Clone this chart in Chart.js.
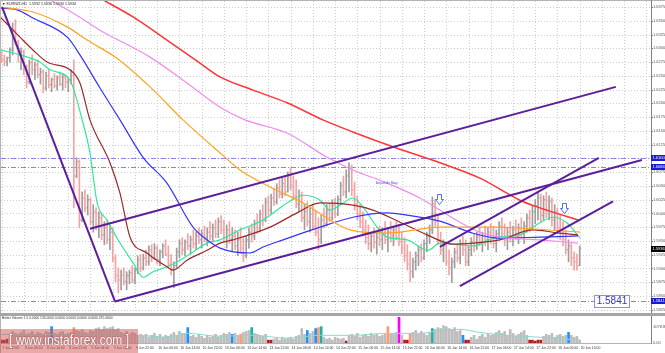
<!DOCTYPE html>
<html>
<head>
<meta charset="utf-8">
<title>EURNZD H1</title>
<script src="https://cdn.jsdelivr.net/npm/chart.js@4.4.1/dist/chart.umd.min.js"></script>
<style>
  body { margin: 0; background: #fff; }
  #wrap { position: relative; width: 665px; height: 353px; overflow: hidden; }
  canvas { position: absolute; left: 0; }
  #priceChart { top: 0; }
  #volChart { top: 316px; }
</style>
</head>
<body>
<div id="wrap">
  <canvas id="priceChart" width="665" height="316"></canvas>
  <canvas id="volChart" width="665" height="37"></canvas>
</div>
<script>
// EURNZD H1 - price pane with moving averages and trendlines, Better Volume pane below

const symbolTitle = '\u25BC EURNZD,H1  1.5932 1.5936 1.5930 1.5934';
const volumeTitle = 'Better Volume 1.5 0.0000 135.0000 0.0000 0.0000 0.0000 0.0000 475.0000';

// time labels, one every 8 bars
const timeLabels = [
    '7 Jun 2016', '8 Jun 06:00', '8 Jun 14:00', '8 Jun 22:00', '9 Jun 06:00', '9 Jun 14:00',
    '9 Jun 22:00', '10 Jun 06:00', '10 Jun 14:00', '10 Jun 22:00', '13 Jun 06:00', '13 Jun 14:00',
    '13 Jun 22:00', '14 Jun 06:00', '14 Jun 14:00', '14 Jun 22:00', '15 Jun 06:00', '15 Jun 14:00',
    '15 Jun 22:00', '16 Jun 06:00', '16 Jun 14:00', '16 Jun 22:00', '17 Jun 06:00', '17 Jun 14:00',
    '17 Jun 22:00', '20 Jun 06:00', '20 Jun 14:00'
];
const barsPerLabel = 8;

const priceTicks = [
    1.5825, 1.5850, 1.5875, 1.5900, 1.5925, 1.5950, 1.5975, 1.6000, 1.6025, 1.6050, 1.6075, 1.6100,
    1.6125, 1.6150, 1.6175, 1.6200, 1.6225, 1.6250, 1.6275, 1.6300, 1.6325, 1.6350, 1.6375
];
const volumeTicks = [0, 1078.85];

// H1 bars
const opens = [
    1.6288,1.6279,1.6275,1.6283,1.6297,1.6333,1.6312,1.6288,1.6294,1.6261,
    1.6239,1.6274,1.6261,1.6270,1.6252,1.6257,1.6228,1.6250,1.6234,1.6243,
    1.6232,1.6246,1.6235,1.6248,1.6239,1.6243,1.6250,1.6068,1.6094,1.5988,
    1.6028,1.6010,1.6025,1.5985,1.6003,1.5977,1.5992,1.5961,1.5974,1.5952,
    1.5966,1.5919,1.5887,1.5879,1.5888,1.5876,1.5887,1.5892,1.5879,1.5897,
    1.5916,1.5901,1.5919,1.5912,1.5934,1.5919,1.5937,1.5916,1.5930,1.5941,
    1.5926,1.5908,1.5897,1.5905,1.5930,1.5945,1.5934,1.5948,1.5941,1.5952,
    1.5945,1.5959,1.5952,1.5963,1.5956,1.5966,1.5959,1.5974,1.5963,1.5985,
    1.5970,1.5956,1.5970,1.5952,1.5959,1.5941,1.5952,1.5937,1.5923,1.5952,
    1.5966,1.5959,1.5981,1.5974,1.5999,1.5988,1.6021,1.6006,1.6028,1.6021,
    1.6046,1.6035,1.6054,1.6039,1.6068,1.6050,1.6032,1.6017,1.6032,1.5992,
    1.6003,1.5985,1.5999,1.5977,1.5966,1.5952,1.5988,1.5981,1.6006,1.5992,
    1.6014,1.5999,1.6025,1.6050,1.6039,1.6068,1.6083,1.6043,1.6017,1.5999,
    1.5985,1.5970,1.5956,1.5945,1.5959,1.5948,1.5956,1.5952,1.5963,1.5952,
    1.5966,1.5959,1.5970,1.5956,1.5948,1.5937,1.5923,1.5908,1.5894,1.5912,
    1.5923,1.5934,1.5919,1.5945,1.5959,1.5970,1.6017,1.5985,1.5952,1.5934,
    1.5941,1.5912,1.5901,1.5912,1.5930,1.5919,1.5945,1.5934,1.5912,1.5934,
    1.5948,1.5941,1.5959,1.5948,1.5959,1.5952,1.5966,1.5956,1.5945,1.5963,
    1.5977,1.5963,1.5952,1.5966,1.5956,1.5970,1.5959,1.5974,1.5963,1.5977,
    1.5992,1.5974,1.6003,1.6014,1.6028,1.5996,1.6025,1.6006,1.6021,1.5988,
    1.6003,1.5974,1.5963,1.5952,1.5934,1.5941,1.5919,1.5912,1.5905
];
const highs = [
    1.6294,1.6288,1.6284,1.6301,1.6346,1.6352,1.6315,1.6301,1.6297,1.6270,
    1.6279,1.6288,1.6275,1.6279,1.6264,1.6261,1.6257,1.6261,1.6246,1.6254,
    1.6250,1.6257,1.6254,1.6252,1.6246,1.6261,1.6279,1.6101,1.6097,1.6039,
    1.6043,1.6034,1.6028,1.6016,1.6010,1.6003,1.5999,1.5985,1.5988,1.5979,
    1.5974,1.5925,1.5901,1.5897,1.5901,1.5894,1.5897,1.5905,1.5901,1.5923,
    1.5925,1.5926,1.5934,1.5941,1.5943,1.5945,1.5941,1.5934,1.5945,1.5952,
    1.5941,1.5925,1.5912,1.5937,1.5952,1.5956,1.5952,1.5963,1.5959,1.5970,
    1.5966,1.5974,1.5970,1.5977,1.5974,1.5985,1.5981,1.5988,1.5992,1.5996,
    1.5988,1.5979,1.5985,1.5974,1.5970,1.5966,1.5974,1.5956,1.5959,1.5974,
    1.5981,1.5988,1.5999,1.6006,1.6016,1.6028,1.6032,1.6035,1.6046,1.6054,
    1.6061,1.6065,1.6068,1.6075,1.6083,1.6068,1.6061,1.6043,1.6039,1.6016,
    1.6021,1.6010,1.6016,1.6006,1.5992,1.5997,1.6010,1.6016,1.6019,1.6025,
    1.6028,1.6032,1.6057,1.6068,1.6079,1.6092,1.6088,1.6057,1.6032,1.6016,
    1.6003,1.5988,1.5979,1.5966,1.5974,1.5966,1.5977,1.5974,1.5985,1.5974,
    1.5985,1.5977,1.5985,1.5979,1.5966,1.5956,1.5943,1.5930,1.5919,1.5930,
    1.5941,1.5945,1.5952,1.5966,1.5979,1.6030,1.6025,1.5997,1.5966,1.5952,
    1.5948,1.5934,1.5919,1.5937,1.5945,1.5952,1.5959,1.5952,1.5941,1.5956,
    1.5963,1.5966,1.5974,1.5966,1.5977,1.5974,1.5981,1.5977,1.5970,1.5985,
    1.5992,1.5981,1.5974,1.5985,1.5977,1.5988,1.5981,1.5992,1.5985,1.5999,
    1.6006,1.6014,1.6025,1.6039,1.6035,1.6032,1.6039,1.6032,1.6028,1.6016,
    1.6010,1.5999,1.5985,1.5970,1.5952,1.5945,1.5930,1.5926,1.5941
];
const lows = [
    1.6274,1.6268,1.6268,1.6275,1.6288,1.6306,1.6275,1.6261,1.6252,1.6228,
    1.6235,1.6252,1.6243,1.6246,1.6235,1.6219,1.6224,1.6228,1.6221,1.6228,
    1.6224,1.6232,1.6224,1.6228,1.6221,1.6235,1.6010,1.6065,1.5974,1.5985,
    1.6003,1.5997,1.5979,1.5966,1.5970,1.5956,1.5952,1.5943,1.5945,1.5934,
    1.5912,1.5876,1.5856,1.5861,1.5870,1.5861,1.5872,1.5874,1.5872,1.5890,
    1.5894,1.5897,1.5905,1.5906,1.5912,1.5916,1.5908,1.5905,1.5919,1.5923,
    1.5901,1.5888,1.5865,1.5901,1.5919,1.5925,1.5923,1.5934,1.5926,1.5937,
    1.5934,1.5945,1.5937,1.5948,1.5941,1.5952,1.5948,1.5956,1.5956,1.5963,
    1.5948,1.5937,1.5945,1.5930,1.5934,1.5923,1.5930,1.5912,1.5919,1.5937,
    1.5948,1.5952,1.5963,1.5966,1.5977,1.5985,1.5997,1.5999,1.6014,1.6017,
    1.6028,1.6028,1.6032,1.6039,1.6043,1.6025,1.6010,1.6003,1.5985,1.5970,
    1.5977,1.5966,1.5970,1.5959,1.5934,1.5945,1.5974,1.5977,1.5985,1.5988,
    1.5992,1.5996,1.6017,1.6032,1.6028,1.6039,1.6032,1.6006,1.5988,1.5974,
    1.5959,1.5945,1.5934,1.5930,1.5937,1.5926,1.5941,1.5934,1.5945,1.5930,
    1.5948,1.5941,1.5952,1.5941,1.5926,1.5912,1.5897,1.5876,1.5883,1.5897,
    1.5905,1.5912,1.5916,1.5930,1.5945,1.5963,1.5977,1.5943,1.5925,1.5912,
    1.5905,1.5888,1.5874,1.5901,1.5912,1.5908,1.5923,1.5905,1.5905,1.5923,
    1.5930,1.5934,1.5941,1.5930,1.5941,1.5934,1.5945,1.5937,1.5930,1.5952,
    1.5956,1.5941,1.5934,1.5948,1.5941,1.5952,1.5945,1.5956,1.5945,1.5966,
    1.5966,1.5970,1.5981,1.5988,1.5985,1.5988,1.5992,1.5988,1.5977,1.5970,
    1.5963,1.5952,1.5941,1.5926,1.5912,1.5905,1.5897,1.5897,1.5905
];
const closes = [
    1.6279,1.6275,1.6283,1.6297,1.6333,1.6312,1.6288,1.6294,1.6261,1.6239,
    1.6274,1.6261,1.6270,1.6252,1.6257,1.6228,1.6250,1.6234,1.6243,1.6232,
    1.6246,1.6235,1.6248,1.6239,1.6243,1.6250,1.6068,1.6094,1.5988,1.6028,
    1.6010,1.6025,1.5985,1.6003,1.5977,1.5992,1.5961,1.5974,1.5952,1.5966,
    1.5919,1.5887,1.5879,1.5888,1.5876,1.5887,1.5892,1.5879,1.5897,1.5916,
    1.5901,1.5919,1.5912,1.5934,1.5919,1.5937,1.5916,1.5930,1.5941,1.5926,
    1.5908,1.5897,1.5905,1.5930,1.5945,1.5934,1.5948,1.5941,1.5952,1.5945,
    1.5959,1.5952,1.5963,1.5956,1.5966,1.5959,1.5974,1.5963,1.5985,1.5970,
    1.5956,1.5970,1.5952,1.5959,1.5941,1.5952,1.5937,1.5923,1.5952,1.5966,
    1.5959,1.5981,1.5974,1.5999,1.5988,1.6021,1.6006,1.6028,1.6021,1.6046,
    1.6035,1.6054,1.6039,1.6068,1.6050,1.6032,1.6017,1.6032,1.5992,1.6003,
    1.5985,1.5999,1.5977,1.5966,1.5952,1.5988,1.5981,1.6006,1.5992,1.6014,
    1.5999,1.6025,1.6050,1.6039,1.6068,1.6083,1.6043,1.6017,1.5999,1.5985,
    1.5970,1.5956,1.5945,1.5959,1.5948,1.5956,1.5952,1.5963,1.5952,1.5966,
    1.5959,1.5970,1.5956,1.5948,1.5937,1.5923,1.5908,1.5894,1.5912,1.5923,
    1.5934,1.5919,1.5945,1.5959,1.5970,1.6017,1.5985,1.5952,1.5934,1.5941,
    1.5912,1.5901,1.5912,1.5930,1.5919,1.5945,1.5934,1.5912,1.5934,1.5948,
    1.5941,1.5959,1.5948,1.5959,1.5952,1.5966,1.5956,1.5945,1.5963,1.5977,
    1.5963,1.5952,1.5966,1.5956,1.5970,1.5959,1.5974,1.5963,1.5977,1.5992,
    1.5974,1.6003,1.6014,1.6028,1.5996,1.6025,1.6006,1.6021,1.5988,1.6003,
    1.5974,1.5963,1.5952,1.5934,1.5941,1.5919,1.5912,1.5905,1.5936
];

// moving averages as [bar, price]
const maGreen = [[-0.5,1.6297],[6.7,1.6288],[13.8,1.6275],[17.4,1.6261],[24.6,1.6242],[29.0,1.6170],[31.8,1.6110],
    [34.4,1.6019],[37.9,1.5988],[41.9,1.5952],[47.3,1.5910],[50.9,1.5884],[54.5,1.5894],[59.5,1.5903],[64.2,1.5915],
    [68.9,1.5930],[73.9,1.5946],[78.6,1.5952],[85.8,1.5970],[94.1,1.5988],[102.7,1.6019],[108.5,1.6033],[114.6,1.6024],
    [118.2,1.6006],[121.8,1.6015],[126.4,1.6028],[130.0,1.6012],[135.1,1.5975],[138.7,1.5957],[145.9,1.5952],
    [153.4,1.5933],[157.7,1.5946],[169.6,1.5941],[178.2,1.5957],[186.5,1.5961],[193.7,1.5983],[198.4,1.5993],
    [203.4,1.5983],[208.1,1.5955]];
const maBrown = [[-0.5,1.6357],[6.7,1.6320],[11.3,1.6297],[16.4,1.6275],[24.6,1.6261],[28.2,1.6237],[31.8,1.6170],
    [39.0,1.6092],[42.6,1.6037],[46.2,1.5957],[52.3,1.5928],[59.5,1.5903],[61.7,1.5897],[66.7,1.5915],[73.9,1.5933],
    [78.6,1.5946],[83.3,1.5952],[96.6,1.5975],[106.3,1.6001],[114.6,1.6019],[126.4,1.6015],[133.6,1.6006],
    [143.4,1.5984],[153.1,1.5961],[162.4,1.5944],[169.6,1.5946],[179.3,1.5952],[191.2,1.5970],[200.9,1.5964],
    [207.4,1.5961]];
const maBlue = [[-0.5,1.6373],[5.6,1.6370],[11.3,1.6355],[23.9,1.6319],[28.2,1.6288],[35.4,1.6228],[42.6,1.6170],
    [50.9,1.6102],[59.5,1.6055],[68.9,1.5975],[73.9,1.5952],[78.6,1.5937],[89.4,1.5928],[94.1,1.5939],[101.3,1.5952],
    [114.6,1.5975],[126.4,1.5993],[138.7,1.6001],[145.9,1.5997],[157.7,1.5986],[169.6,1.5964],[179.3,1.5955],
    [193.7,1.5957],[207.4,1.5959]];
const maOrange = [[-0.5,1.6375],[11.3,1.6366],[23.6,1.6339],[30.8,1.6315],[41.5,1.6282],[53.4,1.6230],[65.3,1.6170],
    [78.6,1.6110],[85.8,1.6079],[96.6,1.6048],[108.5,1.6019],[118.2,1.5988],[125.4,1.5970],[138.7,1.5964],
    [157.7,1.5975],[175.7,1.5975],[187.6,1.5973],[208.1,1.5966]];
const maViolet = [[10.3,1.6406],[17.4,1.6388],[25.7,1.6364],[35.4,1.6333],[53.4,1.6284],[66.7,1.6237],[78.6,1.6193],
    [87.6,1.6170],[102.7,1.6146],[117.1,1.6102],[126.4,1.6079],[138.7,1.6055],[150.5,1.6028],[157.7,1.6006],
    [164.9,1.5984],[172.1,1.5966],[179.3,1.5957],[193.7,1.5952],[207.4,1.5946]];
const maRed = [[28.2,1.6411],[36.5,1.6388],[47.3,1.6357],[59.5,1.6315],[71.4,1.6273],[78.6,1.6248],[90.5,1.6224],
    [102.7,1.6201],[115.6,1.6170],[126.4,1.6148],[140.8,1.6121],[157.7,1.6092],[172.1,1.6064],[186.5,1.6024],
    [193.7,1.6010],[207.4,1.5988]];

// drawn objects
const trendLines = [
    [[0.2, 1.6375], [40.8, 1.5840]],
    [[40.8, 1.5840], [230.4, 1.6097]],
    [[31.8, 1.5972], [221.0, 1.6230]],
    [[157.7, 1.5939], [214.9, 1.6101]],
    [[164.9, 1.5868], [220.0, 1.6022]]
];
const levels = [1.6100, 1.6084, 1.5841];
const lastPrice = 1.5936;
const flagLabel = { x: 134.7, y: 1.6056, text: 'bearish flag' };
const arrowMarks = [[157.4, 1.6026], [202.3, 1.6010]];
const levelBox = { x: 213.1, y: 1.5841, text: '1.5841' };

// Better Volume
const volumes = [
    190,190,254,571,761,634,507,697,824,571,634,761,507,697,634,571,761,697,1078,634,
    571,697,761,507,634,697,1014,824,761,888,697,634,824,761,951,1014,888,1078,951,1014,
    1078,888,951,697,634,761,571,697,634,507,571,444,571,380,507,634,444,571,380,507,
    444,571,697,507,761,634,571,1014,444,507,380,571,444,317,507,380,444,571,380,507,
    634,571,697,571,634,507,571,697,761,824,1014,634,571,507,444,571,190,190,254,317,
    190,380,254,317,380,254,444,507,951,571,824,634,761,951,1014,1078,380,254,317,190,
    380,317,254,317,127,507,571,444,634,380,507,571,444,634,507,571,444,507,571,1078,
    634,571,697,1712,507,190,190,634,697,824,571,761,634,507,697,951,888,1014,951,1141,
    1078,951,888,1014,761,824,507,190,190,380,507,254,444,571,380,634,507,571,697,824,
    634,761,507,888,634,444,571,697,824,507,190,190,127,190,190,444,571,507,634,380,
    507,571,444,507,697,507,380,444,190
];
const volBlue = [18, 67, 83, 110, 113, 166, 204];
const volSalmon = [26, 86, 114, 139, 147];
const volTeal = [90, 115, 155];
const volDarkRed = [0, 1, 2, 96, 97, 124, 145, 146, 167, 168, 190, 191, 192, 193, 194];
const volMagenta = [143];
const volumeAvg = [[0,570],[49.1,507],[59.5,380],[66.7,634],[78.6,444],[90.5,507],[102.7,317],[114.6,507],
    [126.4,507],[138.7,634],[150.5,634],[157.7,820],[164.9,900],[172.1,697],[181.8,507],[193.7,380],[208.1,190]];

// ---- styling ----
const xMin = -0.2, xMax = 233.66;
const upColor = '#9e9e9e', downColor = '#f7a2a2';
const trendColor = '#5b1f9c';
const FONT = '"Liberation Sans", Arial, sans-serif';

const barColors = closes.map((c, i) => c >= opens[i] ? upColor : downColor);
const toPoints = arr => arr.map(p => ({ x: p[0], y: p[1] }));

function text(ctx, s, x, y, size, color, align) {
    ctx.font = size + 'px ' + FONT;
    ctx.fillStyle = color;
    ctx.textAlign = align || 'left';
    ctx.textBaseline = 'middle';
    ctx.fillText(s, x, y);
}

function maLine(points, color, width) {
    return {
        type: 'line', data: toPoints(points), borderColor: color, borderWidth: width,
        pointRadius: 0, cubicInterpolationMode: 'monotone', order: 5
    };
}

const gridPlugin = {
    id: 'mtGrid',
    beforeDatasetsDraw(chart) {
        const { ctx, chartArea: a, scales: { x, y } } = chart;
        ctx.save();
        ctx.strokeStyle = '#cdcdcd';
        ctx.lineWidth = 1;
        ctx.setLineDash([1, 2]);
        ctx.beginPath();
        for (let i = 0; i <= xMax; i += barsPerLabel) {
            const px = Math.round(x.getPixelForValue(i)) + 0.5;
            ctx.moveTo(px, a.top);
            ctx.lineTo(px, a.bottom);
        }
        priceTicks.forEach(p => {
            const py = Math.round(y.getPixelForValue(p)) + 0.5;
            ctx.moveTo(a.left, py);
            ctx.lineTo(a.right, py);
        });
        ctx.stroke();

        // horizontal levels, dash-dot
        ctx.strokeStyle = '#8484ee';
        ctx.setLineDash([5, 2, 1, 2]);
        ctx.beginPath();
        levels.forEach(p => {
            const py = Math.round(y.getPixelForValue(p)) + 0.5;
            ctx.moveTo(a.left, py);
            ctx.lineTo(a.right, py);
        });
        ctx.stroke();
        ctx.restore();
    }
};

// open / close ticks of the bars
const ohlcTicks = {
    id: 'ohlcTicks',
    afterDatasetDraw(chart, args) {
        if (args.index !== 0) return;
        const { ctx, scales: { x, y } } = chart;
        ctx.save();
        closes.forEach((c, i) => {
            const px = x.getPixelForValue(i);
            ctx.fillStyle = barColors[i];
            ctx.fillRect(px - 1.5, y.getPixelForValue(opens[i]) - 0.5, 1, 1);
            ctx.fillRect(px + 0.5, y.getPixelForValue(c) - 0.5, 1, 1);
        });
        ctx.restore();
    }
};

function downArrow(ctx, cx, cy) {
    ctx.beginPath();
    ctx.moveTo(cx - 2, cy - 5);
    ctx.lineTo(cx + 2, cy - 5);
    ctx.lineTo(cx + 2, cy);
    ctx.lineTo(cx + 4, cy);
    ctx.lineTo(cx, cy + 5);
    ctx.lineTo(cx - 4, cy);
    ctx.lineTo(cx - 2, cy);
    ctx.closePath();
    ctx.fillStyle = '#fff';
    ctx.fill();
    ctx.strokeStyle = '#4f6ef5';
    ctx.lineWidth = 1;
    ctx.stroke();
}

function axisTag(ctx, s, py, bg) {
    ctx.fillStyle = bg;
    ctx.fillRect(651, Math.round(py) - 3, 14, 6);
    text(ctx, s, 652.5, py, 4, '#fff', 'left');
}

const priceDecor = {
    id: 'priceDecor',
    afterDraw(chart) {
        const { ctx, scales: { x, y } } = chart;
        ctx.save();

        // annotations
        text(ctx, flagLabel.text, x.getPixelForValue(flagLabel.x), y.getPixelForValue(flagLabel.y), 4.2, '#4a4af0', 'left');
        arrowMarks.forEach(m => downArrow(ctx, Math.round(x.getPixelForValue(m[0])) + 0.5,
            Math.round(y.getPixelForValue(m[1])) + 0.5));
        const bx = Math.round(x.getPixelForValue(levelBox.x)) + 0.5;
        const by = Math.round(y.getPixelForValue(levelBox.y));
        ctx.fillStyle = '#fff';
        ctx.fillRect(bx, by - 5.5, 35, 12);
        ctx.strokeStyle = '#8c8cf2';
        ctx.lineWidth = 1;
        ctx.strokeRect(bx, by - 5.5, 35, 12);
        text(ctx, levelBox.text, bx + 17.5, by + 0.5, 10, '#3434c4', 'center');

        // frame
        ctx.fillStyle = '#b4b4b4';
        ctx.fillRect(0, 0, 665, 1);
        ctx.fillRect(0, 0, 1, 316);
        ctx.fillStyle = '#a6a6a6';
        ctx.fillRect(0, 313, 665, 3);
        ctx.fillStyle = '#808080';
        ctx.fillRect(651, 0, 1, 313);

        text(ctx, symbolTitle, 2, 4, 3.6, '#222', 'left');

        // price axis
        priceTicks.forEach(p => {
            const py = y.getPixelForValue(p);
            ctx.fillStyle = '#808080';
            ctx.fillRect(651, Math.round(py), 2, 1);
            text(ctx, p.toFixed(4), 653, py, 4, '#555', 'left');
        });
        levels.forEach(p => axisTag(ctx, p.toFixed(4), y.getPixelForValue(p), '#1a1ad0'));
        axisTag(ctx, lastPrice.toFixed(4), y.getPixelForValue(lastPrice), '#000');
        ctx.restore();
    }
};

const priceDatasets = [
    {
        type: 'bar',
        data: highs.map((h, i) => ({ x: i, y: [lows[i], h] })),
        backgroundColor: barColors,
        barThickness: 1,
        grouped: false,
        order: 10
    },
    maLine(maRed, '#ff3434', 1.5),
    maLine(maViolet, '#f08cf0', 1.2),
    maLine(maOrange, '#ffa41c', 1.2),
    maLine(maBlue, '#3434ff', 1.2),
    maLine(maBrown, '#9b2a2a', 1.2),
    maLine(maGreen, '#30e89a', 1.2)
];
trendLines.forEach(t => priceDatasets.push({
    type: 'line', data: toPoints(t), borderColor: trendColor, borderWidth: 2,
    pointRadius: 0, order: 1
}));

new Chart(document.getElementById('priceChart'), {
    type: 'bar',
    data: { datasets: priceDatasets },
    options: {
        responsive: false,
        animation: false,
        events: [],
        layout: { padding: { left: 1, top: 1, right: 14, bottom: 3 } },
        plugins: { legend: { display: false }, tooltip: { enabled: false } },
        scales: {
            x: { type: 'linear', min: xMin, max: xMax, offset: false, display: false },
            y: { min: 1.5819, max: 1.6386, display: false }
        }
    },
    plugins: [gridPlugin, ohlcTicks, priceDecor]
});

// ---- volume pane ----
const volColors = volumes.map((v, i) => {
    if (volMagenta.includes(i)) return '#ff00ff';
    if (volBlue.includes(i)) return '#1e90ff';
    if (volSalmon.includes(i)) return '#ff9a6a';
    if (volTeal.includes(i)) return '#1fb0a4';
    if (volDarkRed.includes(i)) return '#a51e1e';
    return '#bdbdbd';
});

const volDecor = {
    id: 'volDecor',
    afterDraw(chart) {
        const { ctx, scales: { x, y } } = chart;
        ctx.save();
        ctx.fillStyle = '#808080';
        ctx.fillRect(651, 0, 1, 28);
        ctx.fillStyle = '#b4b4b4';
        ctx.fillRect(0, 27, 651, 1);
        ctx.fillRect(0, 0, 1, 37);

        text(ctx, volumeTitle, 2, 2, 3.3, '#333', 'left');
        volumeTicks.forEach(v => text(ctx, v.toFixed(2), 653, y.getPixelForValue(v), 4, '#555', 'left'));
        timeLabels.forEach((s, k) => text(ctx, s, x.getPixelForValue(k * barsPerLabel) + 1, 32, 3.4, '#333', 'left'));

        // watermark
        ctx.fillStyle = 'rgba(214, 84, 84, 0.5)';
        ctx.fillRect(0, 13, 138, 24);
        ctx.font = '15px ' + FONT;
        const s = '[ www.instaforex.com ]';
        const w = ctx.measureText(s).width;
        ctx.translate(9, 25);
        ctx.scale(120 / w, 1);
        ctx.textAlign = 'left';
        ctx.textBaseline = 'middle';
        ctx.strokeStyle = 'rgba(120, 60, 60, 0.45)';
        ctx.lineWidth = 1;
        ctx.strokeText(s, 0, 0);
        ctx.fillStyle = 'rgba(255, 255, 255, 0.95)';
        ctx.fillText(s, 0, 0);
        ctx.restore();
    }
};

new Chart(document.getElementById('volChart'), {
    type: 'bar',
    data: {
        datasets: [
            {
                type: 'line', data: toPoints(volumeAvg), borderColor: '#8fd6d0', borderWidth: 1,
                pointRadius: 0, cubicInterpolationMode: 'monotone', order: 1
            },
            {
                type: 'bar', data: volumes.map((v, i) => ({ x: i, y: v })),
                backgroundColor: volColors, barThickness: 2, grouped: false, order: 2
            }
        ]
    },
    options: {
        responsive: false,
        animation: false,
        events: [],
        layout: { padding: { left: 1, top: 1, right: 14, bottom: 10 } },
        plugins: { legend: { display: false }, tooltip: { enabled: false } },
        scales: {
            x: { type: 'linear', min: xMin, max: xMax, offset: false, display: false },
            y: { min: 0, max: 1712, display: false }
        }
    },
    plugins: [volDecor]
});
</script>
</body>
</html>
